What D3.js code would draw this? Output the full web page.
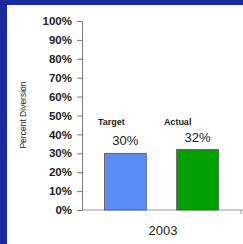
<!DOCTYPE html>
<meta charset="utf-8">
<html>
<head>
<script src="https://d3js.org/d3.v7.min.js"></script>
<style>
  body { margin: 0; background: #1c2a9c; }
  text { font-family: Arial, "Liberation Sans", sans-serif; fill: #222; }
</style>
</head>
<body>
<div id="chart"></div>
<script>
// data
const categories = ["Target", "Actual"];
const values = [30, 32];
const barColors = ["#5b8cf5", "#00a000"];
const yTicks = [0, 10, 20, 30, 40, 50, 60, 70, 80, 90, 100];
const yearLabel = "2003";
const yTitle = "Percent Diversion";

const W = 243, H = 244;
const svg = d3.select("#chart").append("svg")
    .attr("width", W).attr("height", H);

// blue frame + white panel
svg.append("rect").attr("x", 0).attr("y", 0).attr("width", W).attr("height", H).attr("fill", "#1c2a9c");
svg.append("rect").attr("x", 7).attr("y", 5).attr("width", W - 7).attr("height", H - 5).attr("fill", "#ffffff");

const x0 = 82, y0 = 210, yTop = 21, xEnd = 243;
const catShift = [-14, -20]; // category labels sit left of bar centre

const y = d3.scaleLinear().domain([0, 100]).range([y0, yTop]);
const x = d3.scaleBand().domain(categories).range([x0, xEnd - 2]).paddingInner(0.42).paddingOuter(0.31);

// y axis
const yAxis = svg.append("g")
    .attr("transform", "translate(" + x0 + ",0)")
    .call(d3.axisLeft(y).tickValues(yTicks).tickFormat(d => d + "%").tickSize(5).tickPadding(5));
yAxis.select(".domain").attr("stroke", "#777");
yAxis.selectAll(".tick line").attr("stroke", "#777");
yAxis.selectAll("text").style("font-size", "11.5px").style("font-weight", "bold").attr("fill", "#333");

// x axis line
svg.append("line").attr("x1", x0).attr("x2", xEnd).attr("y1", y0).attr("y2", y0)
    .attr("stroke", "#999");
svg.append("line").attr("x1", xEnd - 2).attr("x2", xEnd - 2).attr("y1", y0).attr("y2", y0 + 4)
    .attr("stroke", "#999");

// bars
svg.selectAll(".bar").data(categories).enter().append("rect")
    .attr("x", d => x(d))
    .attr("y", (d, i) => y(values[i]))
    .attr("width", x.bandwidth())
    .attr("height", (d, i) => y0 - y(values[i]))
    .attr("fill", (d, i) => barColors[i])
    .attr("stroke", "#555").attr("stroke-width", 0.8);

// category labels
svg.selectAll(".cat").data(categories).enter().append("text")
    .attr("x", (d, i) => x(d) + x.bandwidth() / 2 + catShift[i])
    .attr("y", 125)
    .attr("text-anchor", "middle")
    .style("font-size", "9px").style("font-weight", "bold")
    .text(d => d);

// value labels
svg.selectAll(".val").data(categories).enter().append("text")
    .attr("x", (d, i) => x(d) + x.bandwidth() / 2)
    .attr("y", (d, i) => y(values[i]) - 8)
    .attr("text-anchor", "middle")
    .style("font-size", "13px")
    .text((d, i) => values[i] + "%");

// year label
svg.append("text").attr("x", 163).attr("y", 235)
    .attr("text-anchor", "middle")
    .style("font-size", "13px")
    .text(yearLabel);

// y title
svg.append("text")
    .attr("transform", "translate(26,115) rotate(-90)")
    .attr("text-anchor", "middle")
    .style("font-size", "8.5px")
    .text(yTitle);
</script>
</body>
</html>
